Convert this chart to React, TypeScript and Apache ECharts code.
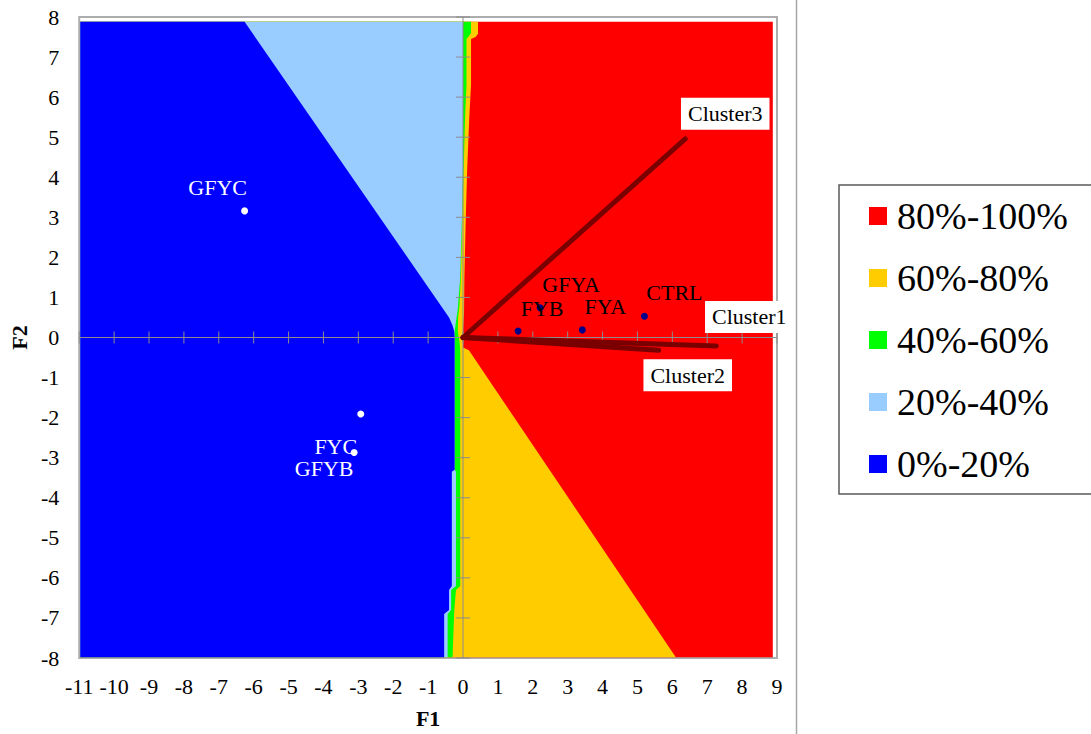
import React, { useEffect, useRef } from 'react';
import * as echarts from 'echarts';

// ---- axes ----
const X_MIN = -11;
const X_MAX = 9;
const Y_MIN = -8;
const Y_MAX = 8;
const X_TICKS = [-11, -10, -9, -8, -7, -6, -5, -4, -3, -2, -1, 0, 1, 2, 3, 4, 5, 6, 7, 8, 9];
const Y_TICKS = [-8, -7, -6, -5, -4, -3, -2, -1, 0, 1, 2, 3, 4, 5, 6, 7, 8];

// extent of the shaded probability surface
const MAP_X = [-10.97, 8.88];
const MAP_Y = [-7.98, 7.88];

// probability classes (legend order)
const CLASS_NAMES = ['80%-100%', '60%-80%', '40%-60%', '20%-40%', '0%-20%'];
const CLASS_COLORS = ['#ff0000', '#ffcc00', '#00ff00', '#99ccff', '#0000ff'];

// right-hand edge (F1, F2) of each cumulative band, from top to bottom
const EDGE_BELOW_80: [number, number][] = [
  [0.43, 7.88], [0.43, 7.58], [0.36, 7.5], [0.23, 7.45], [0.23, 6.3], [0.18, 5.5],
  [0.12, 4.2], [0.08, 3.0], [0.04, 1.5], [0.03, 0.6], [0.0, 0.2], [0.0, -0.25],
  [0.17, -0.32], [6.1, -7.98],
];
const EDGE_BELOW_60: [number, number][] = [
  [0.23, 7.88], [0.23, 7.6], [0.15, 7.5], [0.1, 7.45], [0.1, 6.3], [0.06, 5.5],
  [0.02, 4.2], [-0.02, 3.0], [-0.06, 1.5], [-0.1, 0.8], [-0.14, 0.5], [-0.15, 0.15],
  [-0.1, -0.1], [-0.08, -0.3], [-0.08, -6.2], [-0.2, -6.3], [-0.25, -6.8], [-0.3, -7.98],
];
const EDGE_BELOW_40: [number, number][] = [
  [0.0, 7.88], [0.0, 4.2], [-0.03, 3.0], [-0.08, 1.5], [-0.15, 0.7], [-0.2, 0.4],
  [-0.24, 0.15], [-0.24, -3.3], [-0.2, -3.35], [-0.2, -6.2], [-0.34, -6.3],
  [-0.34, -6.8], [-0.44, -6.9], [-0.44, -7.98],
];
const EDGE_BELOW_20: [number, number][] = [
  [-6.26, 7.88], [-0.4, 0.5], [-0.3, 0.3], [-0.25, 0.15], [-0.24, 0.0], [-0.24, -3.3],
  [-0.32, -3.35], [-0.32, -6.2], [-0.4, -6.3], [-0.4, -6.8], [-0.54, -6.9], [-0.54, -7.98],
];

// treatment scores
const GROUP_A_NAMES = ['FYB', 'GFYA', 'FYA', 'CTRL'];
const GROUP_A_F1 = [1.58, 2.21, 3.42, 5.2];
const GROUP_A_F2 = [0.16, 0.74, 0.19, 0.53];
const GROUP_B_NAMES = ['GFYC', 'FYC', 'GFYB'];
const GROUP_B_F1 = [-6.26, -2.93, -3.12];
const GROUP_B_F2 = [3.16, -1.91, -2.87];

// cluster loading vectors (from the origin)
const CLUSTER_NAMES = ['Cluster1', 'Cluster2', 'Cluster3'];
const CLUSTER_F1 = [7.26, 5.61, 6.37];
const CLUSTER_F2 = [-0.21, -0.32, 4.96];

// label placement (pixels, relative to the marker)
const LABEL_OFFSET: Record<string, [number, number]> = {
  FYB: [24, -23],
  GFYA: [31, -23],
  FYA: [23, -23],
  CTRL: [30, -24],
  GFYC: [-27, -23],
  FYC: [-25, 32],
  GFYB: [-30, 16],
  Cluster1: [33, -29],
  Cluster2: [29, 25],
  Cluster3: [40, -25],
};

const FONT = 'Liberation Serif';
const AXIS_GRAY = '#8c8c8c';
const VECTOR_RED = '#7a0000';

function bandPolygon(edge: [number, number][]): [number, number][] {
  return [[MAP_X[0], MAP_Y[1]], ...edge, [MAP_X[0], MAP_Y[0]]];
}

function polygonSeries(name: string, color: string, pts: [number, number][], z: number) {
  return {
    type: 'custom',
    name,
    silent: true,
    z,
    itemStyle: { color },
    data: [[pts[0][0], pts[0][1]]],
    renderItem: (_p: any, api: any) => ({
      type: 'polygon',
      shape: { points: pts.map((p) => api.coord(p)) },
      style: { fill: color, stroke: null },
    }),
  };
}

export default function App() {
  const ref = useRef<HTMLDivElement>(null);

  useEffect(() => {
    if (!ref.current) return;
    const chart = echarts.init(ref.current, undefined, { renderer: 'svg' });

    const fullRect: [number, number][] = [
      [MAP_X[0], MAP_Y[1]], [MAP_X[1], MAP_Y[1]], [MAP_X[1], MAP_Y[0]], [MAP_X[0], MAP_Y[0]],
    ];
    const bands = [
      fullRect,
      bandPolygon(EDGE_BELOW_80),
      bandPolygon(EDGE_BELOW_60),
      bandPolygon(EDGE_BELOW_40),
      bandPolygon(EDGE_BELOW_20),
    ];
    const bandSeries = CLASS_NAMES.map((n, i) => polygonSeries(n, CLASS_COLORS[i], bands[i], 1));

    const zeroAxes = {
      type: 'custom',
      name: 'axes',
      silent: true,
      z: 3,
      data: [[0, 0]],
      renderItem: (_p: any, api: any) => {
        const style = { stroke: AXIS_GRAY, lineWidth: 1 };
        const left = api.coord([X_MIN, 0]);
        const right = api.coord([X_MAX, 0]);
        const top = api.coord([0, Y_MAX]);
        const bottom = api.coord([0, Y_MIN]);
        const children: any[] = [
          { type: 'line', shape: { x1: left[0], y1: left[1], x2: right[0], y2: right[1] }, style },
          { type: 'line', shape: { x1: top[0], y1: top[1], x2: bottom[0], y2: bottom[1] }, style },
        ];
        X_TICKS.forEach((v) => {
          const p = api.coord([v, 0]);
          children.push({ type: 'line', shape: { x1: p[0], y1: p[1] - 6, x2: p[0], y2: p[1] + 6 }, style });
        });
        Y_TICKS.forEach((v) => {
          const p = api.coord([0, v]);
          children.push({ type: 'line', shape: { x1: p[0] - 7, y1: p[1], x2: p[0] + 7, y2: p[1] }, style });
        });
        return { type: 'group', children };
      },
    };

    const clusterLines = CLUSTER_NAMES.map((n, i) => ({
      type: 'line',
      name: n,
      silent: true,
      z: 4,
      symbol: 'none',
      lineStyle: { color: VECTOR_RED, width: 5, cap: 'round', opacity: 1 },
      data: [[0, 0], [CLUSTER_F1[i], CLUSTER_F2[i]]],
    }));

    const pointLabel = (name: string, color: string, extra: any = {}) => ({
      show: true,
      position: 'inside',
      offset: LABEL_OFFSET[name],
      formatter: name,
      color,
      opacity: 1,
      fontSize: 22,
      fontFamily: FONT,
      textBorderWidth: 0,
      ...extra,
    });

    const clusterLabels = {
      type: 'scatter',
      name: 'cluster labels',
      silent: true,
      z: 6,
      symbolSize: 2,
      itemStyle: { color: VECTOR_RED, opacity: 1 },
      data: CLUSTER_NAMES.map((n, i) => ({
        value: [CLUSTER_F1[i], CLUSTER_F2[i]],
        label: pointLabel(n, '#000', { backgroundColor: '#ffffff', padding: [5, 7] }),
      })),
    };

    const groupA = {
      type: 'scatter',
      name: 'group A',
      silent: true,
      z: 5,
      symbolSize: 7,
      itemStyle: { color: '#00008b', opacity: 1 },
      data: GROUP_A_NAMES.map((n, i) => ({
        value: [GROUP_A_F1[i], GROUP_A_F2[i]],
        label: pointLabel(n, '#000'),
      })),
    };

    const groupB = {
      type: 'scatter',
      name: 'group B',
      silent: true,
      z: 5,
      symbolSize: 7,
      itemStyle: { color: '#ffffff', opacity: 1 },
      data: GROUP_B_NAMES.map((n, i) => ({
        value: [GROUP_B_F1[i], GROUP_B_F2[i]],
        label: pointLabel(n, '#ffffff'),
      })),
    };

    const tickText = {
      color: '#000',
      fontSize: 22,
      fontFamily: FONT,
      fontStyle: 'normal',
      fontWeight: 'normal',
    };

    chart.setOption({
      animation: false,
      backgroundColor: '#ffffff',
      textStyle: { fontFamily: FONT, color: '#000' },
      grid: {
        left: 77,
        top: 17,
        width: 700,
        height: 644,
        show: true,
        backgroundColor: '#ffffff',
        borderColor: '#adadad',
        borderWidth: 2,
      },
      xAxis: {
        type: 'value',
        min: X_MIN,
        max: X_MAX,
        interval: 1,
        position: 'bottom',
        axisLine: { show: false, onZero: false },
        axisTick: { show: false },
        splitLine: { show: false },
        axisLabel: { ...tickText, margin: 17 },
        name: 'F1',
        nameLocation: 'middle',
        nameGap: 49,
        nameTextStyle: { color: '#000', fontSize: 22, fontWeight: 'bold', fontFamily: FONT },
      },
      yAxis: {
        type: 'value',
        min: Y_MIN,
        max: Y_MAX,
        interval: 1,
        position: 'left',
        axisLine: { show: false, onZero: false },
        axisTick: { show: false },
        splitLine: { show: false },
        axisLabel: { ...tickText, margin: 20 },
        name: 'F2',
        nameLocation: 'middle',
        nameGap: 48,
        nameTextStyle: { color: '#000', fontSize: 22, fontWeight: 'bold', fontFamily: FONT },
      },
      legend: {
        data: CLASS_NAMES,
        orient: 'vertical',
        left: 839,
        top: 185,
        icon: 'rect',
        itemWidth: 18,
        itemHeight: 18,
        itemGap: 24,
        padding: [12, 40, 11, 30],
        borderColor: '#595959',
        borderWidth: 1.5,
        selectedMode: false,
        textStyle: {
          color: '#000',
          fontSize: 38,
          fontFamily: FONT,
          fontStyle: 'normal',
          fontWeight: 'normal',
          padding: [0, 0, 0, 5],
        },
      },
      graphic: [
        {
          type: 'line',
          shape: { x1: 796.5, y1: 0, x2: 796.5, y2: 734 },
          style: { stroke: '#a6a6a6', lineWidth: 1.5 },
          silent: true,
        },
      ],
      series: [...bandSeries, zeroAxes, ...clusterLines, groupA, groupB, clusterLabels],
    });

    return () => chart.dispose();
  }, []);

  return (
    <div
      ref={ref}
      style={{ position: 'fixed', left: 0, top: 0, width: 1091, height: 734 }}
    />
  );
}
